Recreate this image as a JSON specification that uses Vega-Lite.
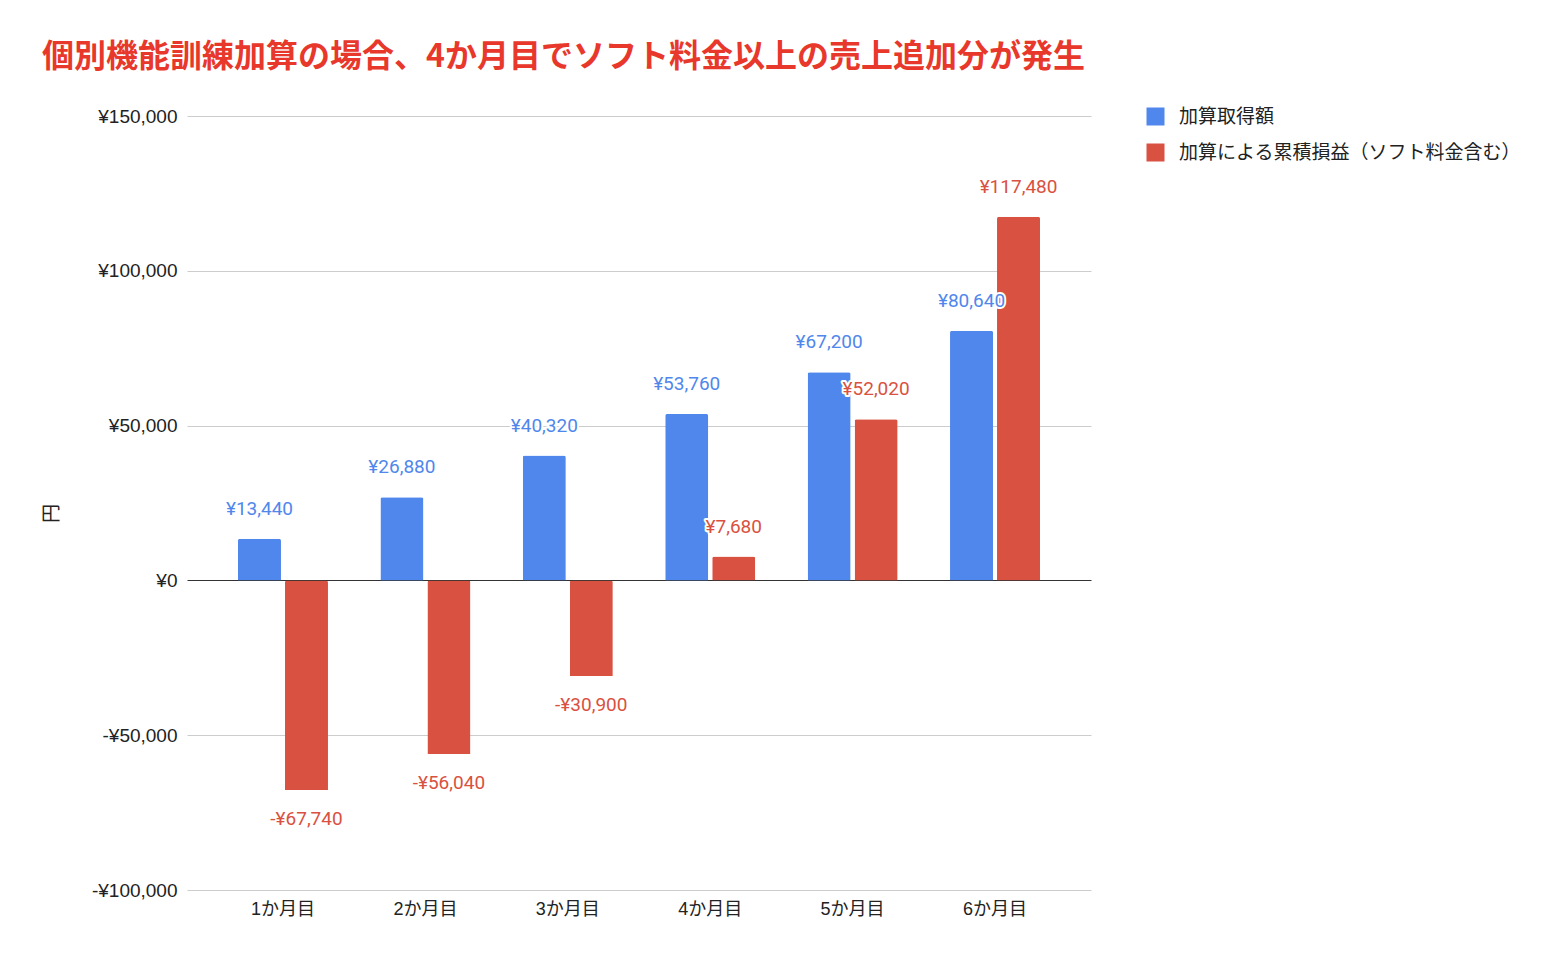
{
  "$schema": "https://vega.github.io/schema/vega-lite/v6.json",
  "width": 904,
  "height": 774,
  "autosize": {"type": "none"},
  "padding": {"left": 187, "top": 116, "right": 473, "bottom": 74},
  "background": "white",
  "config": {
    "view": {"stroke": null},
    "font": "Roboto, Noto Sans CJK JP",
    "locale": {"number": {"decimal": ".", "thousands": ",", "grouping": [3], "currency": ["¥", ""], "minus": "-"}}
  },
  "title": {
    "text": "個別機能訓練加算の場合、4か月目でソフト料金以上の売上追加分が発生",
    "anchor": "start",
    "frame": "group",
    "dx": -145,
    "offset": 33,
    "font": "Noto Sans CJK JP",
    "fontSize": 32,
    "fontWeight": "bold",
    "color": "#e8382b"
  },
  "data": {
    "values": [
      {"month": "1か月目", "series": "加算取得額", "value": 13440},
      {"month": "1か月目", "series": "加算による累積損益（ソフト料金含む）", "value": -67740},
      {"month": "2か月目", "series": "加算取得額", "value": 26880},
      {"month": "2か月目", "series": "加算による累積損益（ソフト料金含む）", "value": -56040},
      {"month": "3か月目", "series": "加算取得額", "value": 40320},
      {"month": "3か月目", "series": "加算による累積損益（ソフト料金含む）", "value": -30900},
      {"month": "4か月目", "series": "加算取得額", "value": 53760},
      {"month": "4か月目", "series": "加算による累積損益（ソフト料金含む）", "value": 7680},
      {"month": "5か月目", "series": "加算取得額", "value": 67200},
      {"month": "5か月目", "series": "加算による累積損益（ソフト料金含む）", "value": 52020},
      {"month": "6か月目", "series": "加算取得額", "value": 80640},
      {"month": "6か月目", "series": "加算による累積損益（ソフト料金含む）", "value": 117480}
    ]
  },
  "encoding": {
    "x": {
      "field": "month",
      "type": "nominal",
      "sort": null,
      "scale": {"paddingInner": 0.368, "paddingOuter": 0.358},
      "axis": {
        "title": null,
        "labelAngle": 0,
        "labelFontSize": 18,
        "labelColor": "#222222",
        "labelFont": "Liberation Sans, Noto Sans CJK JP",
        "labelPadding": 10,
        "ticks": false,
        "domain": false,
        "grid": false
      }
    },
    "xOffset": {
      "field": "series",
      "type": "nominal",
      "sort": ["加算取得額", "加算による累積損益（ソフト料金含む）"],
      "scale": {"paddingInner": 0.085, "paddingOuter": 0}
    },
    "y": {
      "field": "value",
      "type": "quantitative",
      "scale": {"domain": [-100000, 150000], "nice": false},
      "axis": {
        "title": "円",
        "titleFont": "Noto Sans CJK JP",
        "titleFontSize": 19,
        "titleFontWeight": "normal",
        "titleColor": "#222222",
        "titleX": -126,
        "titleY": 397,
        "values": [-100000, -50000, 0, 50000, 100000, 150000],
        "format": "$,.0f",
        "labelFont": "Liberation Sans",
        "labelFontSize": 19,
        "labelColor": "#222222",
        "labelPadding": 10,
        "ticks": false,
        "domain": false,
        "gridColor": {"condition": {"test": "datum.value === 0", "value": "#333333"}, "value": "#cccccc"},
        "gridWidth": 1
      }
    }
  },
  "layer": [
    {
      "mark": {"type": "bar", "cornerRadiusEnd": 2},
      "encoding": {
        "color": {
          "field": "series",
          "type": "nominal",
          "sort": ["加算取得額", "加算による累積損益（ソフト料金含む）"],
          "scale": {"domain": ["加算取得額", "加算による累積損益（ソフト料金含む）"], "range": ["#5087ec", "#d95140"]},
          "legend": {
            "title": null,
            "orient": "none",
            "legendX": 959,
            "legendY": -9,
            "padding": 0,
            "symbolType": "square",
            "symbolSize": 324,
            "symbolStrokeWidth": 0,
            "labelFontSize": 19,
            "labelFont": "Noto Sans CJK JP",
            "labelColor": "#222222",
            "labelOffset": 14,
            "rowPadding": 16,
            "labelLimit": 500
          }
        }
      }
    },
    {
      "transform": [{"filter": "datum.value >= 0"}],
      "mark": {"type": "text", "dy": -30, "fontSize": 19, "stroke": "white", "strokeWidth": 4, "fill": "white", "strokeJoin": "round"},
      "encoding": {
        "text": {"field": "value", "type": "quantitative", "format": "$,.0f"}
      }
    },
    {
      "transform": [{"filter": "datum.value < 0"}],
      "mark": {"type": "text", "dy": 29, "fontSize": 19, "stroke": "white", "strokeWidth": 4, "fill": "white", "strokeJoin": "round"},
      "encoding": {
        "text": {"field": "value", "type": "quantitative", "format": "$,.0f"}
      }
    },
    {
      "transform": [{"filter": "datum.value >= 0"}],
      "mark": {"type": "text", "dy": -30, "fontSize": 19},
      "encoding": {
        "text": {"field": "value", "type": "quantitative", "format": "$,.0f"},
        "color": {"field": "series", "type": "nominal", "legend": null}
      }
    },
    {
      "transform": [{"filter": "datum.value < 0"}],
      "mark": {"type": "text", "dy": 29, "fontSize": 19},
      "encoding": {
        "text": {"field": "value", "type": "quantitative", "format": "$,.0f"},
        "color": {"field": "series", "type": "nominal", "legend": null}
      }
    }
  ]
}
